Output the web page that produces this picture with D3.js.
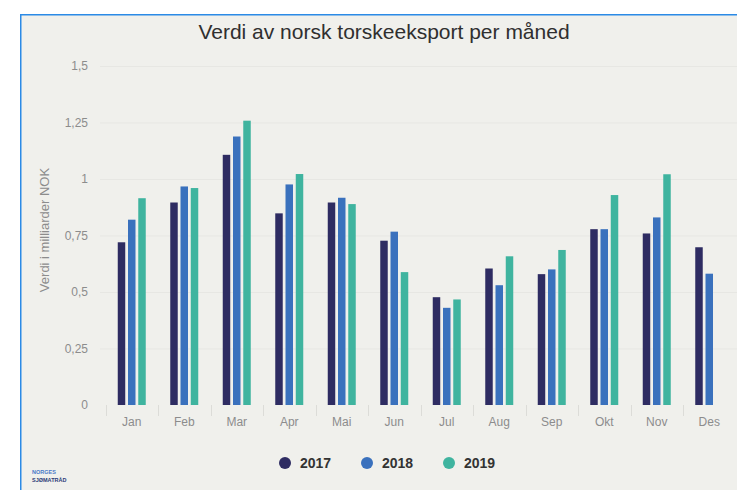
<!DOCTYPE html>
<html>
<head>
<meta charset="utf-8">
<script src="https://cdn.jsdelivr.net/npm/d3@7"></script>
<style>
  html, body { margin: 0; padding: 0; background: #ffffff; }
  svg { display: block; font-family: "Liberation Sans", Arial, sans-serif; }
</style>
</head>
<body>
<svg id="chart" width="737" height="490"></svg>
<script>
const months = ["Jan","Feb","Mar","Apr","Mai","Jun","Jul","Aug","Sep","Okt","Nov","Des"];
const years = ["2017","2018","2019"];
const values2017 = [0.72, 0.896, 1.107, 0.848, 0.896, 0.727, 0.477, 0.604, 0.579, 0.778, 0.759, 0.698];
const values2018 = [0.82, 0.967, 1.188, 0.976, 0.917, 0.767, 0.43, 0.53, 0.60, 0.778, 0.83, 0.581];
const values2019 = [0.915, 0.96, 1.258, 1.022, 0.889, 0.588, 0.467, 0.658, 0.686, 0.929, 1.021, null];
const yTicks = [0, 0.25, 0.5, 0.75, 1, 1.25, 1.5];
const colors = ["#2e2c62", "#3a71bd", "#3fb49f"];
const title = "Verdi av norsk torskeeksport per måned";
const yTitle = "Verdi i milliarder NOK";

const series = [values2017, values2018, values2019];
const svg = d3.select("#chart");

// panel
svg.append("rect").attr("x", 20).attr("y", 14).attr("width", 717).attr("height", 476).attr("fill", "#f0f0ec");
svg.append("path").attr("d", "M20.75,490 V14.75 H737").attr("fill", "none").attr("stroke", "#2b8ae6").attr("stroke-width", 1.5);

const x0 = d3.scaleBand().domain(months).range([105.5, 735.5]).padding(0);
const x1 = d3.scaleBand().domain(years).range([12.25, x0.bandwidth() - 12.25]).paddingInner(0.27).paddingOuter(0);
const y = d3.scaleLinear().domain([0, 1.5]).range([405, 66]);

const fmt = v => String(v).replace(".", ",");

// gridlines
svg.append("g").selectAll("line").data(yTicks.filter(d => d > 0)).join("line")
  .attr("x1", 100).attr("x2", 737)
  .attr("y1", d => y(d) + 0.5).attr("y2", d => y(d) + 0.5)
  .attr("stroke", "#e7e7e3").attr("stroke-width", 1);

// y axis
const yAxis = svg.append("g").attr("transform", "translate(88,0)")
  .call(d3.axisLeft(y).tickValues(yTicks).tickFormat(fmt).tickSize(0).tickPadding(0));
yAxis.select(".domain").remove();
yAxis.selectAll("text").attr("fill", "#8c8c8c").style("font-size", "12px");

// x axis
const xAxis = svg.append("g").attr("transform", "translate(0,405)")
  .call(d3.axisBottom(x0).tickSize(0).tickPadding(12));
xAxis.select(".domain").remove();
xAxis.selectAll("text").attr("fill", "#8c8c8c").style("font-size", "12px")
  .attr("dx", x1("2018") + x1.bandwidth() / 2 - x0.bandwidth() / 2);
// tick separators
svg.append("g").selectAll("line").data(months).join("line")
  .attr("x1", d => Math.round(x0(d)) + 0.5).attr("x2", d => Math.round(x0(d)) + 0.5)
  .attr("y1", 405).attr("y2", 416)
  .attr("stroke", "#dcdcd8");

// bars
const groups = svg.append("g").selectAll("g").data(months).join("g")
  .attr("transform", d => `translate(${x0(d)},0)`);
groups.selectAll("rect")
  .data((m, i) => years.map((yr, k) => ({ yr, k, v: series[k][i] })).filter(d => d.v != null))
  .join("rect")
  .attr("x", d => x1(d.yr))
  .attr("width", x1.bandwidth())
  .attr("y", d => y(d.v))
  .attr("height", d => y(0) - y(d.v))
  .attr("fill", d => colors[d.k]);

// title
svg.append("text").attr("x", 384).attr("y", 39).attr("text-anchor", "middle")
  .attr("fill", "#2f2f2f").style("font-size", "21px").text(title);

// y title
svg.append("text").attr("transform", "translate(49,230) rotate(-90)").attr("text-anchor", "middle")
  .attr("fill", "#8c8c8c").style("font-size", "13px").text(yTitle);

// legend
const legendX = [285, 367, 449];
const lg = svg.append("g").selectAll("g").data(years).join("g")
  .attr("transform", (d, i) => `translate(${legendX[i]},463)`);
lg.append("circle").attr("r", 6).attr("fill", (d, i) => colors[i]);
lg.append("text").attr("x", 15).attr("y", 5).attr("fill", "#333").style("font-size", "14px")
  .style("font-weight", "bold").text(d => d);

// logo
svg.append("text").attr("x", 32).attr("y", 474).attr("fill", "#4a78c8").style("font-size", "5.5px").style("font-weight", "bold").text("NORGES");
svg.append("text").attr("x", 32).attr("y", 482).attr("fill", "#2c3b78").style("font-size", "5.5px").style("font-weight", "bold").text("SJØMATRÅD");
</script>
</body>
</html>
